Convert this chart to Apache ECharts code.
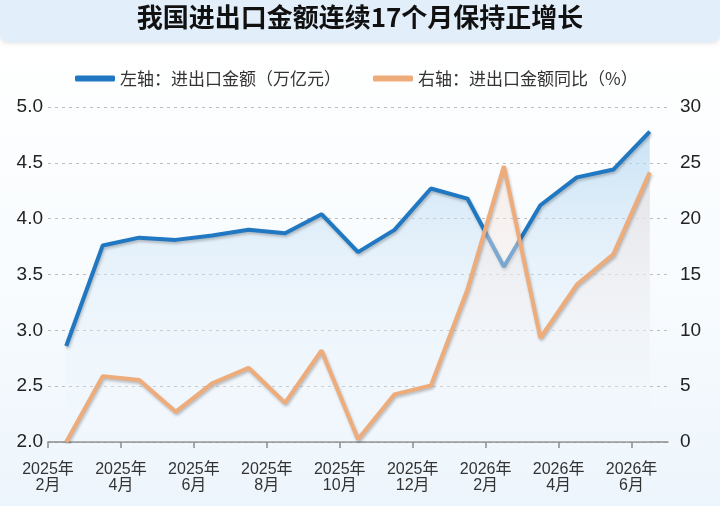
<!DOCTYPE html>
<html>
<head>
<meta charset="utf-8">
<script src="https://cdn.jsdelivr.net/npm/echarts@6/dist/echarts.min.js"></script>
<style>
  html, body { margin: 0; padding: 0; background: #fff; }
  #chart { width: 720px; height: 515px; }
</style>
</head>
<body>
<div id="chart"></div>
<script>
// 月份刻度（每两个月一个）
var tickLabels = ['2025年\n2月', '2025年\n4月', '2025年\n6月', '2025年\n8月', '2025年\n10月',
  '2025年\n12月', '2026年\n2月', '2026年\n4月', '2026年\n6月'];
// 左轴：进出口金额（万亿元）
var amount = [2.86, 3.76, 3.83, 3.81, 3.85, 3.90, 3.87, 4.04, 3.70, 3.90, 4.27, 4.18, 3.57, 4.12, 4.37, 4.44, 4.78];
// 右轴：进出口金额同比（%）
var yoy = [0.0, 5.9, 5.55, 2.7, 5.25, 6.65, 3.5, 8.2, 0.24, 4.27, 5.07, 13.66, 24.7, 9.33, 14.1, 16.8, 24.15];

var FONT = 'Liberation Sans, Noto Sans CJK SC, sans-serif';
var tickPos = [0, 2, 4, 6, 8, 10, 12, 14, 16];

function toPoints (arr) {
  return arr.map(function (v, i) { return [i + 0.5, v]; });
}

var chart = echarts.init(document.getElementById('chart'));

var option = {
  animation: false,
  textStyle: { fontFamily: FONT },
  graphic: [
    {
      type: 'rect', z: -10, silent: true,
      shape: { x: 0, y: 40, width: 720, height: 466 },
      style: {
        fill: new echarts.graphic.LinearGradient(0, 0, 0, 1, [
          { offset: 0, color: '#ffffff' },
          { offset: 0.55, color: '#f7fbfe' },
          { offset: 1, color: '#edf5fc' }
        ])
      }
    },
    {
      type: 'rect', z: -5, silent: true,
      shape: { x: 0, y: 0, width: 720, height: 42, r: [0, 0, 8, 8] },
      style: { fill: '#e2eefa', shadowColor: 'rgba(0,0,0,0.12)', shadowBlur: 4, shadowOffsetY: 1 }
    },
    {
      type: 'text', left: 'center', top: 4,
      style: {
        text: '我国进出口金额连续17个月保持正增长',
        font: 'bold 26px "Noto Sans CJK SC", sans-serif',
        fill: '#111'
      }
    }
  ],
  legend: {
    top: 65,
    left: 70,
    itemWidth: 40,
    itemHeight: 6,
    itemGap: 32,
    icon: 'roundRect',
    textStyle: { fontSize: 17, color: '#333', fontFamily: 'Noto Sans CJK SC, sans-serif' },
    data: ['左轴：进出口金额（万亿元）', '右轴：进出口金额同比（%）']
  },
  grid: { left: 48, right: 52, top: 107, bottom: 73 },
  xAxis: {
    type: 'value',
    min: 0,
    max: 17,
    splitLine: { show: false },
    axisLine: { show: true, lineStyle: { color: '#8c8c8c', width: 1.5 } },
    axisTick: { show: true, length: 6, customValues: tickPos, lineStyle: { color: '#8c8c8c', width: 1.5 } },
    axisLabel: {
      customValues: tickPos,
      margin: 20,
      fontSize: 16,
      lineHeight: 16,
      color: '#333',
      fontFamily: 'Liberation Sans Narrow, Liberation Sans, Noto Sans CJK SC, sans-serif',
      formatter: function (v) { return tickLabels[v / 2] || ''; }
    }
  },
  yAxis: [
    {
      type: 'value',
      min: 2,
      max: 5,
      interval: 0.5,
      axisLine: { show: false },
      axisTick: { show: false },
      axisLabel: {
        fontSize: 19, color: '#222', margin: 5,
        formatter: function (v) { return v.toFixed(1); }
      },
      splitLine: { lineStyle: { color: '#bdbdbd', type: [3, 4], width: 1 } }
    },
    {
      type: 'value',
      min: 0,
      max: 30,
      interval: 5,
      axisLine: { show: false },
      axisTick: { show: false },
      axisLabel: { fontSize: 19, color: '#222', margin: 12 },
      splitLine: { show: false }
    }
  ],
  series: [
    {
      name: '左轴：进出口金额（万亿元）',
      type: 'line',
      yAxisIndex: 0,
      showSymbol: false,
      color: '#1f78c1',
      data: toPoints(amount),
      lineStyle: { width: 4, color: '#1f78c1', shadowColor: 'rgba(0,0,0,0.25)', shadowBlur: 3, shadowOffsetX: 1, shadowOffsetY: 2 },
      areaStyle: {
        origin: 'start',
        color: new echarts.graphic.LinearGradient(0, 0, 0, 1, [
          { offset: 0, color: 'rgba(172,211,240,0.9)' },
          { offset: 0.5, color: 'rgba(218,234,248,0.6)' },
          { offset: 1, color: 'rgba(240,247,253,0.2)' }
        ])
      },
      z: 2
    },
    {
      name: '右轴：进出口金额同比（%）',
      type: 'line',
      yAxisIndex: 1,
      showSymbol: false,
      color: '#eeac7a',
      data: toPoints(yoy),
      lineStyle: { width: 4, color: '#eeac7a', shadowColor: 'rgba(0,0,0,0.25)', shadowBlur: 3, shadowOffsetX: 1, shadowOffsetY: 2 },
      areaStyle: {
        origin: 'start',
        color: new echarts.graphic.LinearGradient(0, 0, 0, 1, [
          { offset: 0, color: 'rgba(243,226,220,0.85)' },
          { offset: 0.55, color: 'rgba(246,238,236,0.45)' },
          { offset: 1, color: 'rgba(255,255,255,0)' }
        ])
      },
      z: 3
    }
  ]
};

chart.setOption(option);
</script>
</body>
</html>
